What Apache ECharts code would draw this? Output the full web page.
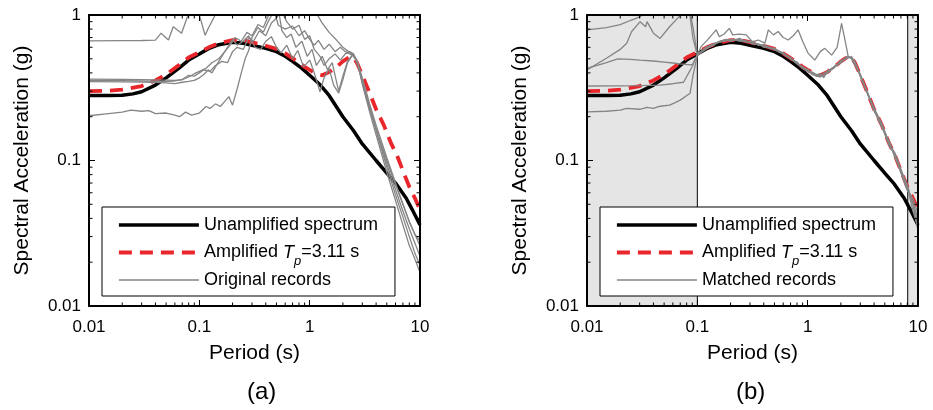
<!DOCTYPE html>
<html>
<head>
<meta charset="utf-8">
<script src="https://cdn.jsdelivr.net/npm/echarts@6/dist/echarts.min.js"></script>
<style>html,body{margin:0;padding:0;background:#fff}#c{width:933px;height:410px}</style>
</head>
<body>
<div id="c"></div>
<script>
// ---------- data ----------
const xTickLabels = ['0.01', '0.1', '1', '10'];
const yTickLabels = ['0.01', '0.1', '1'];
const xMinorTicks = [0.02,0.03,0.04,0.05,0.06,0.07,0.08,0.09,0.2,0.3,0.4,0.5,0.6,0.7,0.8,0.9,2,3,4,5,6,7,8,9];
const yMinorTicks = [0.02,0.03,0.04,0.05,0.06,0.07,0.08,0.09,0.2,0.3,0.4,0.5,0.6,0.7,0.8,0.9];

const NAME_UNAMP = 'Unamplified spectrum';
const NAME_AMP = 'Amplified Tp=3.11 s';
const NAME_ORIG = 'Original records';
const NAME_MATCH = 'Matched records';

// [period (s), Sa (g)]
const unamplified = [[0.01,0.28],[0.015,0.28],[0.02,0.281],[0.025,0.287],[0.03,0.297],[0.04,0.33],[0.05,0.37],[0.065,0.43],[0.08,0.49],[0.1,0.54],[0.12,0.585],[0.15,0.625],[0.2,0.65],[0.25,0.64],[0.3,0.62],[0.4,0.59],[0.5,0.56],[0.6,0.52],[0.7,0.48],[0.85,0.43],[1.0,0.385],[1.25,0.33],[1.5,0.28],[2.0,0.2],[2.5,0.16],[3.0,0.13],[4.0,0.1],[5.0,0.082],[6.0,0.07],[7.5,0.055],[8.5,0.046],[10,0.036]];

const amplified = [[0.01,0.30],[0.015,0.302],[0.02,0.307],[0.03,0.325],[0.04,0.355],[0.05,0.39],[0.067,0.46],[0.08,0.51],[0.1,0.555],[0.125,0.605],[0.15,0.64],[0.2,0.672],[0.25,0.67],[0.3,0.65],[0.4,0.615],[0.5,0.585],[0.6,0.545],[0.7,0.505],[0.8,0.47],[0.9,0.44],[1.0,0.42],[1.15,0.395],[1.3,0.385],[1.5,0.405],[1.75,0.44],[2.0,0.48],[2.3,0.515],[2.5,0.51],[2.7,0.465],[3.0,0.385],[3.5,0.29],[4.0,0.225],[4.7,0.175],[5.5,0.13],[6.2,0.108],[7.0,0.085],[8.0,0.066],[9.0,0.055],[10,0.046]];

const origA = [[0.01,0.665],[0.02,0.667],[0.03,0.668],[0.04,0.672],[0.045,0.75],[0.0525,0.673],[0.058,0.83],[0.069,0.75],[0.079,1.0],[0.09,1.25],[0.1,1.0],[0.113,0.725],[0.12,0.805],[0.144,1.05],[0.2,1.3],[0.3,1.4],[0.4,1.3],[0.48,1.05],[0.52,0.85],[0.6,0.80],[0.7,0.84],[0.8,0.72],[0.9,0.78],[1.0,0.68],[1.1,0.62],[1.2,0.67],[1.35,0.58],[1.5,0.63],[1.7,0.56],[1.9,0.6],[2.1,0.56],[2.3,0.54],[2.5,0.525],[2.7,0.47],[3.0,0.34],[3.5,0.225],[4.0,0.165],[5.0,0.1],[6.0,0.068],[7.0,0.05],[8.0,0.038],[9.0,0.031],[10,0.026]];
const origB = [[0.01,0.362],[0.02,0.361],[0.03,0.36],[0.04,0.358],[0.05,0.357],[0.06,0.355],[0.07,0.36],[0.08,0.375],[0.09,0.395],[0.1,0.41],[0.115,0.43],[0.13,0.47],[0.15,0.5],[0.17,0.56],[0.19,0.62],[0.21,0.7],[0.24,0.66],[0.27,0.76],[0.3,0.72],[0.34,0.86],[0.38,0.82],[0.42,0.98],[0.47,1.1],[0.6,1.25],[0.8,1.3],[1.0,1.15],[1.15,1.03],[1.3,0.88],[1.5,0.76],[1.76,0.67],[2.0,0.6],[2.25,0.56],[2.5,0.53],[2.7,0.475],[3.0,0.35],[3.5,0.235],[4.0,0.165],[5.0,0.095],[6.0,0.063],[7.0,0.045],[8.0,0.034],[9.0,0.027],[10,0.022]];
const origC = [[0.01,0.348],[0.02,0.347],[0.03,0.346],[0.04,0.345],[0.05,0.342],[0.06,0.338],[0.07,0.345],[0.08,0.35],[0.09,0.355],[0.1,0.37],[0.11,0.39],[0.12,0.42],[0.13,0.40],[0.145,0.46],[0.16,0.52],[0.18,0.6],[0.2,0.68],[0.22,0.62],[0.25,0.66],[0.28,0.72],[0.32,0.6],[0.36,0.58],[0.4,0.66],[0.45,0.71],[0.5,0.6],[0.55,0.55],[0.62,0.62],[0.7,0.5],[0.78,0.57],[0.88,0.44],[1.0,0.49],[1.1,0.4],[1.24,0.297],[1.35,0.37],[1.5,0.43],[1.65,0.33],[1.83,0.29],[2.0,0.36],[2.2,0.47],[2.45,0.53],[2.6,0.5],[2.8,0.43],[3.0,0.335],[3.5,0.215],[4.0,0.15],[5.0,0.083],[6.0,0.053],[7.0,0.036],[8.0,0.026],[9.0,0.021],[10,0.017]];
const origD = [[0.01,0.203],[0.015,0.21],[0.02,0.215],[0.024,0.222],[0.03,0.218],[0.035,0.22],[0.04,0.21],[0.05,0.212],[0.06,0.205],[0.066,0.2],[0.075,0.215],[0.085,0.205],[0.1,0.212],[0.115,0.235],[0.125,0.228],[0.14,0.245],[0.155,0.235],[0.17,0.255],[0.185,0.275],[0.2,0.24],[0.22,0.31],[0.24,0.4],[0.26,0.5],[0.28,0.57],[0.3,0.7],[0.34,0.82],[0.38,0.76],[0.42,0.9],[0.47,1.05],[0.52,1.1],[0.56,0.78],[0.62,0.7],[0.68,0.74],[0.75,0.6],[0.85,0.66],[0.95,0.52],[1.05,0.58],[1.15,0.45],[1.3,0.52],[1.45,0.42],[1.6,0.47],[1.83,0.3],[2.0,0.38],[2.2,0.48],[2.45,0.535],[2.6,0.5],[2.8,0.44],[3.0,0.37],[3.5,0.245],[4.0,0.175],[5.0,0.105],[6.0,0.07],[7.0,0.05],[8.0,0.038],[9.0,0.031],[10,0.028]];
const origE = [[0.01,0.355],[0.02,0.354],[0.03,0.352],[0.04,0.35],[0.05,0.35],[0.06,0.352],[0.07,0.36],[0.08,0.385],[0.09,0.38],[0.1,0.4],[0.11,0.42],[0.125,0.41],[0.14,0.45],[0.16,0.48],[0.18,0.47],[0.2,0.56],[0.22,0.6],[0.25,0.58],[0.28,0.7],[0.31,0.66],[0.35,0.78],[0.4,0.72],[0.45,0.88],[0.5,0.95],[0.55,1.08],[0.62,0.9],[0.7,0.8],[0.8,0.85],[0.9,0.68],[1.0,0.72],[1.1,0.58],[1.24,0.52],[1.35,0.45],[1.5,0.5],[1.7,0.54],[1.9,0.49],[2.1,0.54],[2.3,0.56],[2.5,0.54],[2.7,0.48],[3.0,0.355],[3.5,0.23],[4.0,0.16],[5.0,0.09],[6.0,0.058],[7.0,0.041],[8.0,0.03],[9.0,0.023],[10,0.019]];

const matchA = [[0.01,0.79],[0.015,0.82],[0.02,0.86],[0.025,0.92],[0.03,0.97],[0.035,1.05],[0.05,1.2],[0.07,1.25],[0.085,1.1],[0.092,0.8],[0.1,0.53],[0.108,0.606],[0.125,0.68],[0.148,0.79],[0.158,0.71],[0.175,0.74],[0.195,0.81],[0.209,0.73],[0.24,0.74],[0.277,0.73],[0.316,0.655],[0.357,0.673],[0.41,0.64],[0.44,0.79],[0.49,0.73],[0.54,0.77],[0.6,0.7],[0.667,0.673],[0.74,0.72],[0.82,0.79],[0.9,0.66],[1.01,0.545],[1.16,0.49],[1.3,0.56],[1.43,0.59],[1.65,0.53],[1.85,0.6],[2.03,0.877],[2.18,0.673],[2.33,0.52],[2.5,0.5],[2.7,0.455],[3.0,0.39],[3.5,0.285],[4.0,0.225],[4.7,0.17],[5.5,0.128],[6.2,0.11],[7.0,0.083],[8.0,0.066],[8.5,0.058],[9.0,0.05],[9.5,0.045],[10,0.04]];
const matchB = [[0.01,0.42],[0.015,0.504],[0.02,0.58],[0.0229,0.64],[0.0254,0.77],[0.0303,0.9],[0.034,0.83],[0.035,0.9],[0.04,0.75],[0.046,0.69],[0.056,0.83],[0.068,0.97],[0.075,1.1],[0.085,1.05],[0.0913,0.69],[0.1,0.53],[0.12,0.6],[0.14,0.63],[0.16,0.66],[0.18,0.68],[0.2,0.66],[0.24,0.69],[0.28,0.66],[0.32,0.65],[0.36,0.62],[0.4,0.625],[0.45,0.6],[0.5,0.59],[0.55,0.565],[0.6,0.55],[0.7,0.5],[0.8,0.47],[0.9,0.43],[1.0,0.41],[1.1,0.4],[1.2,0.38],[1.3,0.395],[1.4,0.37],[1.5,0.41],[1.75,0.44],[2.0,0.47],[2.3,0.52],[2.5,0.5],[2.7,0.45],[3.0,0.385],[3.5,0.29],[4.0,0.22],[4.7,0.17],[5.5,0.135],[6.2,0.105],[7.0,0.085],[8.0,0.065],[9.0,0.05],[10,0.038]];
const matchC = [[0.01,0.43],[0.015,0.47],[0.019,0.5],[0.025,0.495],[0.03,0.49],[0.04,0.483],[0.05,0.475],[0.06,0.468],[0.07,0.462],[0.08,0.457],[0.09,0.455],[0.1,0.53],[0.12,0.59],[0.14,0.635],[0.16,0.65],[0.18,0.67],[0.2,0.68],[0.24,0.665],[0.28,0.66],[0.32,0.63],[0.36,0.63],[0.4,0.6],[0.45,0.6],[0.5,0.575],[0.55,0.555],[0.6,0.54],[0.7,0.51],[0.8,0.46],[0.9,0.44],[1.0,0.41],[1.1,0.395],[1.2,0.38],[1.3,0.375],[1.4,0.385],[1.5,0.4],[1.75,0.435],[2.0,0.485],[2.3,0.505],[2.5,0.515],[2.7,0.47],[3.0,0.38],[3.5,0.285],[4.0,0.225],[4.7,0.18],[5.5,0.13],[6.2,0.112],[7.0,0.087],[8.0,0.065],[9.0,0.045],[10,0.035]];
const matchD = [[0.01,0.325],[0.02,0.326],[0.03,0.327],[0.046,0.33],[0.06,0.337],[0.075,0.345],[0.085,0.41],[0.091,0.45],[0.095,0.49],[0.1,0.53],[0.12,0.585],[0.14,0.62],[0.16,0.655],[0.18,0.665],[0.2,0.675],[0.24,0.675],[0.28,0.65],[0.32,0.645],[0.36,0.62],[0.4,0.615],[0.45,0.59],[0.5,0.585],[0.55,0.56],[0.6,0.545],[0.7,0.5],[0.8,0.475],[0.9,0.43],[1.0,0.425],[1.1,0.39],[1.2,0.385],[1.3,0.38],[1.4,0.4],[1.5,0.4],[1.75,0.445],[2.0,0.475],[2.3,0.52],[2.5,0.505],[2.7,0.46],[3.0,0.39],[3.5,0.29],[4.0,0.23],[4.7,0.175],[5.5,0.125],[6.2,0.11],[7.0,0.082],[8.0,0.062],[9.0,0.055],[10,0.043]];
const matchE = [[0.01,0.216],[0.015,0.218],[0.02,0.222],[0.0229,0.228],[0.03,0.225],[0.035,0.232],[0.04,0.228],[0.046,0.236],[0.056,0.24],[0.063,0.25],[0.07,0.26],[0.086,0.29],[0.091,0.377],[0.1,0.53],[0.12,0.6],[0.14,0.63],[0.16,0.66],[0.18,0.67],[0.2,0.665],[0.24,0.68],[0.28,0.655],[0.32,0.64],[0.36,0.63],[0.4,0.61],[0.45,0.6],[0.5,0.58],[0.55,0.565],[0.6,0.54],[0.7,0.5],[0.8,0.465],[0.9,0.44],[1.0,0.415],[1.1,0.405],[1.2,0.39],[1.3,0.39],[1.4,0.38],[1.5,0.41],[1.75,0.44],[2.0,0.485],[2.3,0.51],[2.5,0.515],[2.7,0.465],[3.0,0.38],[3.5,0.29],[4.0,0.22],[4.7,0.175],[5.5,0.132],[6.2,0.105],[7.0,0.086],[8.0,0.068],[9.0,0.05],[10,0.033]];

const originalRecords = [origA, origB, origC, origD, origE];
const matchedRecords = [matchA, matchB, matchC, matchD, matchE];
// period ranges excluded from matching (shaded in panel b)
const shadedRanges = [[0.01, 0.1], [8.07, 10]];

// ---------- chart ----------
const FONT = '"Liberation Sans", Arial, Helvetica, sans-serif';
const X_MIN = 0.01, X_MAX = 10, Y_MIN = 0.01, Y_MAX = 1;
const GRIDS = [{left: 89, top: 15, width: 331, height: 291}, {left: 587, top: 15, width: 331, height: 291}];

const chart = echarts.init(document.getElementById('c'), null, {renderer: 'canvas'});

function fmt(v) { return String(Number(v.toPrecision(6))); }

function xAxes(gi) {
  const base = {gridIndex: gi, type: 'log', logBase: 10, min: X_MIN, max: X_MAX, z: 10,
    axisLine: {show: true, onZero: false, lineStyle: {color: '#000', width: 2}},
    splitLine: {show: false}, minorTick: {show: false}};
  return [
    Object.assign({}, base, {position: 'bottom',
      name: 'Period (s)', nameLocation: 'middle', nameGap: 37,
      nameTextStyle: {fontFamily: FONT, fontSize: 21, color: '#000'},
      axisTick: {show: true, inside: true, length: 6, lineStyle: {color: '#000', width: 1}},
      axisLabel: {show: true, margin: 13, fontFamily: FONT, fontSize: 17, color: '#000',
        formatter: v => { const s = fmt(v); return xTickLabels.indexOf(s) >= 0 ? s : ''; }}}),
    Object.assign({}, base, {position: 'top',
      axisTick: {show: true, inside: true, length: 6, lineStyle: {color: '#000', width: 1}},
      axisLabel: {show: false}})
  ];
}
function yAxes(gi) {
  const base = {gridIndex: gi, type: 'log', logBase: 10, min: Y_MIN, max: Y_MAX, z: 10,
    axisLine: {show: true, onZero: false, lineStyle: {color: '#000', width: 2}},
    splitLine: {show: false}, minorTick: {show: false}};
  return [
    Object.assign({}, base, {position: 'left',
      name: 'Spectral Acceleration (g)', nameLocation: 'middle', nameGap: 56,
      nameTextStyle: {fontFamily: FONT, fontSize: 21, color: '#000'},
      axisTick: {show: true, inside: true, length: 6, lineStyle: {color: '#000', width: 1}},
      axisLabel: {show: true, margin: 8, fontFamily: FONT, fontSize: 17, color: '#000',
        formatter: v => { const s = fmt(v); return yTickLabels.indexOf(s) >= 0 ? s : ''; }}}),
    Object.assign({}, base, {position: 'right',
      axisTick: {show: true, inside: true, length: 6, lineStyle: {color: '#000', width: 1}},
      axisLabel: {show: false}})
  ];
}

function minorTickSeries(ai, dir) {
  const vals = dir === 'x' ? xMinorTicks : yMinorTicks;
  return {
    type: 'custom', xAxisIndex: ai, yAxisIndex: ai, silent: true, clip: false, z: 11,
    data: vals.map(v => dir === 'x' ? [v, Y_MIN] : [X_MIN, v]),
    encode: {x: 0, y: 1},
    renderItem: function (params, api) {
      const L = 3.5;
      const st = {stroke: '#000', lineWidth: 1};
      if (dir === 'x') {
        const v = api.value(0);
        const b = api.coord([v, Y_MIN]), t = api.coord([v, Y_MAX]);
        return {type: 'group', children: [
          {type: 'line', shape: {x1: b[0], y1: b[1], x2: b[0], y2: b[1] - L}, style: st},
          {type: 'line', shape: {x1: t[0], y1: t[1], x2: t[0], y2: t[1] + L}, style: st}]};
      } else {
        const v = api.value(1);
        const l = api.coord([X_MIN, v]), r = api.coord([X_MAX, v]);
        return {type: 'group', children: [
          {type: 'line', shape: {x1: l[0], y1: l[1], x2: l[0] + L, y2: l[1]}, style: st},
          {type: 'line', shape: {x1: r[0], y1: r[1], x2: r[0] - L, y2: r[1]}, style: st}]};
      }
    }
  };
}

function panelSeries(ai, records, recName, shaded) {
  const out = [];
  if (shaded) {
    out.push({type: 'line', xAxisIndex: ai, yAxisIndex: ai, data: [], silent: true, z: 1,
      markArea: {silent: true, z: 1,
        itemStyle: {color: '#e5e5e5', borderColor: '#000', borderWidth: 1},
        data: shadedRanges.map(r => [{xAxis: r[0]}, {xAxis: r[1]}])}});
  }
  out.push({type: 'line', name: NAME_UNAMP, xAxisIndex: ai, yAxisIndex: ai, data: unamplified,
    symbol: 'none', z: 3, lineStyle: {color: '#000', width: 3.5}, itemStyle: {color: '#000'}});
  out.push({type: 'line', name: NAME_AMP, xAxisIndex: ai, yAxisIndex: ai, data: amplified,
    symbol: 'none', z: 4, lineStyle: {color: '#e8262b', width: 3.8, type: [13, 8]}, itemStyle: {color: '#e8262b'}});
  records.forEach(r => out.push({type: 'line', name: recName, xAxisIndex: ai, yAxisIndex: ai, data: r,
    symbol: 'none', z: 5, lineStyle: {color: '#858585', width: 1.3}, itemStyle: {color: '#858585'}}));
  return out;
}

function legend(gi, recName) {
  return {
    orient: 'vertical', left: gi === 0 ? 102 : 600, top: 207,
    padding: [9, 17, 7, 15], itemGap: 3, itemWidth: 80, itemHeight: 14,
    backgroundColor: '#fff', borderColor: '#000', borderWidth: 1, borderRadius: 0,
    selectedMode: false, z: 20,
    itemStyle: {opacity: 0, borderWidth: 0},
    lineStyle: {width: 'inherit', type: 'inherit', color: 'inherit'},
    data: [NAME_UNAMP, NAME_AMP, recName],
    formatter: function (name) {
      if (name === NAME_AMP) return '{n|Amplified }{i|T}{s|p}{n|=3.11 s}';
      return '{n|' + name + '}';
    },
    textStyle: {fontFamily: FONT, fontSize: 18, color: '#000',
      rich: {
        n: {fontFamily: FONT, fontSize: 18, color: '#000', lineHeight: 22},
        i: {fontFamily: FONT, fontSize: 18, color: '#000', fontStyle: 'italic', lineHeight: 22},
        s: {fontFamily: FONT, fontSize: 13, color: '#000', fontStyle: 'italic', lineHeight: 13, padding: [18, 0, 0, 0]}
      }}
  };
}

const option = {
  animation: false,
  backgroundColor: '#fff',
  grid: GRIDS.map(g => Object.assign({containLabel: false}, g)),
  xAxis: [...xAxes(0), ...xAxes(1)],
  yAxis: [...yAxes(0), ...yAxes(1)],
  legend: [legend(0, NAME_ORIG), legend(1, NAME_MATCH)],
  series: [
    ...panelSeries(0, originalRecords, NAME_ORIG, false),
    ...panelSeries(2, matchedRecords, NAME_MATCH, true),
    minorTickSeries(0, 'x'), minorTickSeries(0, 'y'),
    minorTickSeries(2, 'x'), minorTickSeries(2, 'y')
  ],
  graphic: [
    {type: 'text', left: 263 - 16, top: 380, style: {text: '(a)', fontFamily: FONT, fontSize: 24, fill: '#000'}},
    {type: 'text', left: 752 - 16, top: 380, style: {text: '(b)', fontFamily: FONT, fontSize: 24, fill: '#000'}}
  ]
};
chart.setOption(option);
</script>
</body>
</html>
